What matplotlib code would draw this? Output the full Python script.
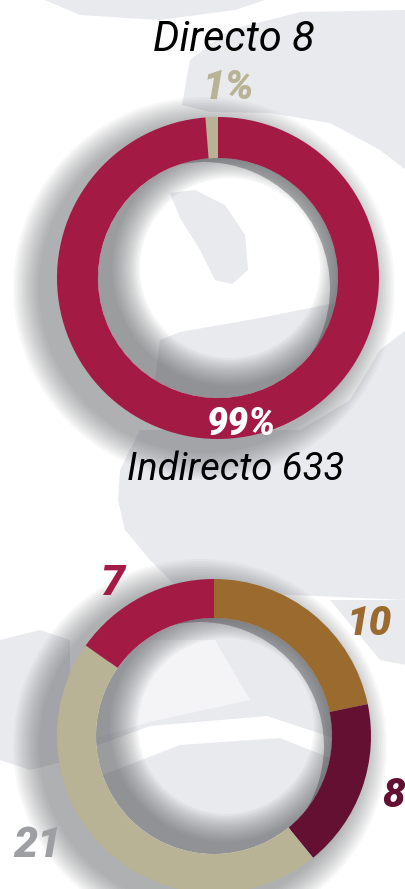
import matplotlib
matplotlib.use('Agg')
import matplotlib.pyplot as plt
from matplotlib.patches import Wedge, Circle, Polygon

plt.rcParams['font.family'] = ['Roboto', 'DejaVu Sans']

W, H = 406, 889

# top donut: direct vs indirect
top_labels = ['Directo', 'Indirecto']
top_values = [8, 633]
top_pct = ['1%', '99%']
top_colors = ['#B8B394', '#A31A45']

# bottom donut
bot_values = [10, 8, 21, 7]
bot_colors = ['#9B6A2F', '#641033', '#B8B394', '#A31A45']
bot_text_colors = ['#9B6A2F', '#641033', '#9D9FA2', '#A31A45']

BG_GRAY = '#E9EAEE'


def yy(y):
    # pixel row (from top) -> data y
    return H - y


fig = plt.figure(figsize=(W / 100, H / 100), dpi=100)
ax = fig.add_axes([0, 0, 1, 1])

# decorative background shapes
shapes = [
    [(45, 0), (265, 0), (235, 10), (160, 20), (80, 15)],
    [(406, 10), (300, 12), (230, 30), (190, 60), (182, 105), (210, 112),
     (270, 113), (330, 123), (380, 150), (406, 170)],
    [(406, 330), (380, 350), (350, 400), (300, 430), (140, 430), (120, 470),
     (118, 500), (125, 530), (150, 560), (180, 590), (406, 600)],
    [(0, 640), (40, 630), (70, 640), (70, 760), (30, 770), (0, 760)],
    [(406, 600), (330, 600), (380, 660), (406, 665)],
]
for s in shapes:
    ax.add_patch(Polygon([(x, yy(y)) for x, y in s], closed=True,
                         facecolor=BG_GRAY, edgecolor='none', zorder=0))


def hole_art(cx, cy, r_in, polys, fill):
    hole = Circle((cx, yy(cy)), r_in, transform=ax.transData)
    base = Circle((cx, yy(cy)), r_in, facecolor=fill, edgecolor='none', zorder=1)
    ax.add_patch(base)
    for pts, col in polys:
        p = Polygon([(x, yy(y)) for x, y in pts], closed=True,
                    facecolor=col, edgecolor='none', zorder=1)
        ax.add_patch(p)
        p.set_clip_path(hole)


def shadows(cx, cy, r_out, r_in):
    # soft outer drop shadow, shifted left/down
    n = 14
    for i in range(n):
        rr = r_out + 2 + 28 * (i + 1) / n
        ax.add_patch(Wedge((cx - 14, yy(cy) - 10), rr, 0, 360, width=rr - r_in - 6,
                           facecolor='#505256', edgecolor='none', alpha=0.04, zorder=1))
    # inner shadow, stronger at the upper right
    hole = Circle((cx, yy(cy)), r_in, transform=ax.transData)
    for i in range(n):
        d = 30 * (i + 1) / n
        big = r_in + 50
        w = Wedge((cx + 12, yy(cy) + 10), big, 0, 360, width=big - (r_in - d),
                  facecolor='#505256', edgecolor='none', alpha=0.055, zorder=2)
        ax.add_patch(w)
        w.set_clip_path(hole)


# top donut
hole_art(218, 278, 120, [
    ([(170, 193), (195, 190), (225, 205), (245, 235), (248, 270), (232, 284),
      (215, 280), (200, 250), (180, 218)], BG_GRAY),
    ([(150, 420), (160, 340), (180, 332), (260, 318), (350, 300), (350, 420)], BG_GRAY),
], 'white')
shadows(218, 278, 161, 120)
ax.pie(top_values, colors=top_colors, startangle=90, counterclock=True,
       center=(218, yy(278)), radius=161,
       wedgeprops=dict(width=41, linewidth=0, zorder=3))

# bottom donut
hole_art(214, 736, 118, [
    ([(90, 748), (150, 726), (267, 716), (340, 740), (340, 762), (280, 738),
      (180, 745), (90, 780)], 'white'),
    ([(90, 640), (215, 640), (250, 700), (150, 722), (90, 740)], '#F4F4F6'),
], BG_GRAY)
shadows(214, 736, 157, 118)
ax.pie(bot_values, colors=bot_colors, startangle=90, counterclock=False,
       center=(214, yy(736)), radius=157,
       wedgeprops=dict(width=39, linewidth=0, zorder=3))

# labels
ax.text(234, yy(51), f'{top_labels[0]} {top_values[0]}', ha='center', va='baseline',
        fontsize=30, style='italic', color='black', zorder=5)
ax.text(228, yy(99), top_pct[0], ha='center', va='baseline', fontsize=29,
        style='italic', weight='black', color=top_colors[0], zorder=5)
ax.text(241, yy(435), top_pct[1], ha='center', va='baseline', fontsize=27,
        style='italic', weight='black', color='white', zorder=5)
ax.text(236, yy(480), f'{top_labels[1]} {top_values[1]}', ha='center', va='baseline',
        fontsize=27.5, style='italic', color='black', zorder=5)

bot_pos = [(369, 635, 29), (394, 807, 29), (37, 857, 31), (112, 595, 31)]
for v, c, (x, y, fs) in zip(bot_values, bot_text_colors, bot_pos):
    ax.text(x, yy(y), str(v), ha='center', va='baseline', fontsize=fs,
            style='italic', weight='black', color=c, zorder=5)

ax.set_xlim(0, W)
ax.set_ylim(0, H)
ax.set_aspect('equal')
ax.axis('off')

fig.savefig('out.png', dpi=100, facecolor='white')
